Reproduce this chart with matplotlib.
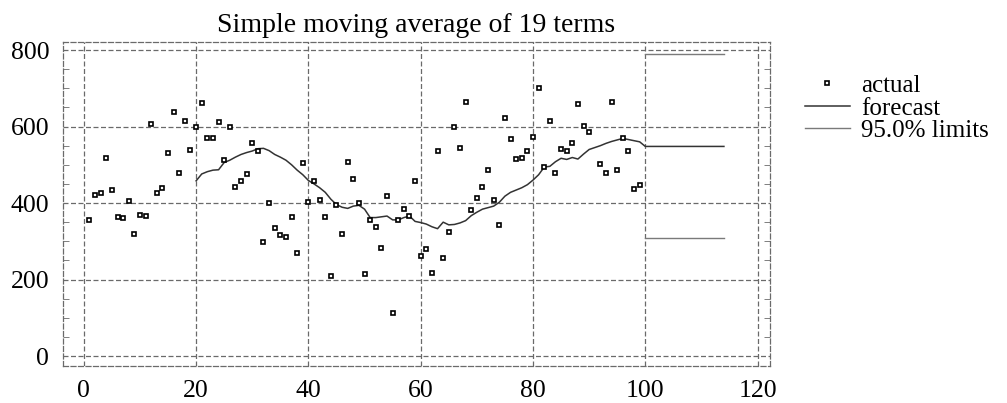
import matplotlib
matplotlib.use("Agg")
import matplotlib.pyplot as plt
from matplotlib.ticker import MultipleLocator

plt.rcParams['font.family'] = ['Liberation Serif', 'DejaVu Serif']

# observed values (period 91 not visible in the chart)
actual_x = list(range(1, 91)) + [92, 93, 94, 95, 96, 97, 98, 99]
actual_y = [355, 421, 425, 517, 434, 364, 360, 405, 318, 370,
            366, 606, 425, 440, 530, 639, 478, 615, 539, 600,
            662, 569, 571, 611, 512, 598, 443, 458, 476, 558,
            537, 299, 399, 336, 316, 312, 364, 270, 504, 403,
            458, 408, 363, 210, 395, 319, 508, 462, 399, 214,
            356, 338, 282, 418, 113, 356, 384, 366, 458, 261,
            279, 216, 537, 257, 325, 598, 543, 663, 383, 412,
            441, 487, 408, 342, 623, 567, 514, 519, 537, 572,
            702, 495, 615, 478, 541, 537, 558, 659, 601, 586,
            501, 478, 663, 486, 571, 537, 438, 447]

# 19-term moving average forecast
forecast_x = list(range(20, 101)) + [114]
forecast_y = [458, 476, 482, 486, 487, 506, 512, 520, 527, 532,
              536, 542, 543, 537, 527, 520, 512, 500, 486, 474,
              459, 450, 440, 428, 410, 396, 389, 386, 392, 394,
              384, 362, 362, 364, 366, 356, 356, 362, 366, 352,
              349, 345, 338, 333, 350, 343, 344, 348, 354, 367,
              376, 384, 388, 392, 402, 418, 428, 434, 440, 448,
              460, 474, 494, 496, 508, 517, 514, 519, 515, 528,
              540, 545, 550, 556, 561, 565, 569, 566, 563, 560,
              548, 548]

limit_x = [100, 114]
upper_y = [790, 790]
lower_y = [308, 308]

fig = plt.figure(figsize=(10.07, 4.03), dpi=100)
ax = fig.add_axes([0.0626, 0.0918, 0.702, 0.804])

grid_style = dict(color='#6a6a6a', linestyle=(0, (4, 2)), linewidth=0.9)
for v in range(0, 121, 20):
    ax.axvline(v, zorder=0, **grid_style)
for v in range(0, 801, 200):
    ax.axhline(v, zorder=0, **grid_style)

ax.plot(actual_x, actual_y, linestyle='none', marker='s', markersize=3.4,
        mfc='white', mec='black', mew=1.2, label='actual', zorder=3)
ax.plot(forecast_x, forecast_y, color='#333333', lw=1.1, label='forecast', zorder=2)
ax.plot(limit_x, upper_y, color='#7a7a7a', lw=1.0, label='95.0% limits', zorder=2)
ax.plot(limit_x, lower_y, color='#7a7a7a', lw=1.0, zorder=2)

ax.set_xlim(-3.7, 122.2)
ax.set_ylim(-26, 821)
ax.set_xticks(range(0, 121, 20))
ax.set_yticks(range(0, 801, 200))
ax.yaxis.set_minor_locator(MultipleLocator(50))
ax.tick_params(axis='both', which='major', length=0, labelsize=18.5, pad=10)
ax.tick_params(axis='y', which='minor', direction='in', length=4,
               left=True, right=True, color='#6a6a6a')

for sp in ax.spines.values():
    sp.set_color('#6a6a6a')
    sp.set_linestyle((0, (4, 2)))
    sp.set_linewidth(0.9)

ax.set_title('Simple moving average of 19 terms', fontsize=20, pad=7)

ax.legend(loc='upper left', bbox_to_anchor=(0.799, 0.815), bbox_transform=fig.transFigure,
          frameon=False, fontsize=18, handlelength=1.8, handletextpad=0.45,
          labelspacing=0.0, borderpad=0, borderaxespad=0)

fig.savefig('out.png', dpi=100, facecolor='white')
